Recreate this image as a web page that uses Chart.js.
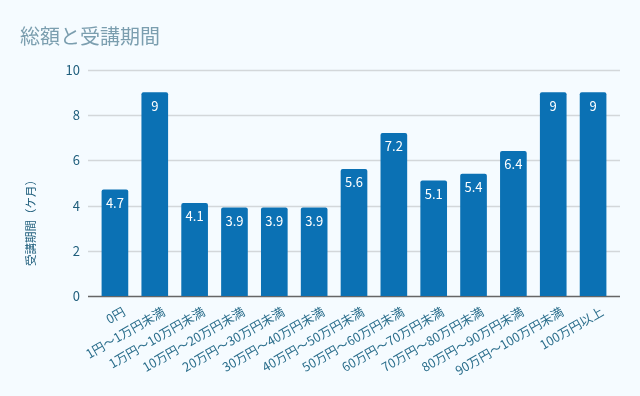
<!DOCTYPE html>
<html>
<head>
<meta charset="utf-8">
<script src="https://cdn.jsdelivr.net/npm/chart.js@4"></script>
<style>
    html, body { margin: 0; padding: 0; background: #f5fbff; }
    #wrap { width: 640px; height: 396px; }
</style>
</head>
<body>
<div id="wrap"><canvas id="chart" width="640" height="396"></canvas></div>
<script>
const FONT = "'Noto Sans CJK JP', 'Noto Sans', sans-serif";

// data
const categories = [
    "0円", "1円～1万円未満", "1万円～10万円未満", "10万円～20万円未満",
    "20万円～30万円未満", "30万円～40万円未満", "40万円～50万円未満",
    "50万円～60万円未満", "60万円～70万円未満", "70万円～80万円未満",
    "80万円～90万円未満", "90万円～100万円未満", "100万円以上"
];
const months = [4.7, 9, 4.1, 3.9, 3.9, 3.9, 5.6, 7.2, 5.1, 5.4, 6.4, 9, 9];
const yTicks = [0, 2, 4, 6, 8, 10];
const yTitle = "受講期間（ケ月）";

// grid lines that run a little past the plot on both sides
const gridPlugin = {
    id: "gridPlugin",
    beforeDatasetsDraw(chart) {
        const { ctx, chartArea, scales } = chart;
        ctx.save();
        scales.y.ticks.forEach(t => {
            const y = Math.round(scales.y.getPixelForValue(t.value)) + 0.5;
            ctx.beginPath();
            ctx.lineWidth = 1.5;
            ctx.strokeStyle = t.value === 0 ? "#666666" : "#d3d7da";
            ctx.moveTo(chartArea.left - 7, y);
            ctx.lineTo(chartArea.right + 7, y);
            ctx.stroke();
        });
        ctx.restore();
    }
};

// value labels inside the top of each bar, plus the y axis title
const valueLabels = {
    id: "valueLabels",
    afterDatasetsDraw(chart) {
        const { ctx } = chart;
        const meta = chart.getDatasetMeta(0);
        ctx.save();
        ctx.fillStyle = "#ffffff";
        ctx.font = "13px " + FONT;
        ctx.textAlign = "center";
        ctx.textBaseline = "middle";
        meta.data.forEach((bar, i) => {
            ctx.fillText(String(months[i]), bar.x, bar.y + 13);
        });
        ctx.restore();

        ctx.save();
        ctx.translate(31, 220);
        ctx.rotate(-Math.PI / 2);
        ctx.fillStyle = "#1f5e7c";
        ctx.font = "11.5px " + FONT;
        ctx.textAlign = "center";
        ctx.textBaseline = "middle";
        ctx.fillText(yTitle, 0, 0);
        ctx.restore();
    }
};

const ctx = document.getElementById("chart").getContext("2d");
new Chart(ctx, {
    type: "bar",
    data: {
        labels: categories,
        datasets: [{
            data: months,
            backgroundColor: "#0b71b4",
            borderRadius: 2,
            borderSkipped: "bottom",
            barThickness: 26
        }]
    },
    options: {
        responsive: false,
        animation: false,
        layout: { padding: { left: 20, right: 27, top: 24, bottom: 10 } },
        plugins: {
            legend: { display: false },
            tooltip: { enabled: false },
            title: {
                display: true,
                text: "総額と受講期間",
                align: "start",
                color: "#7b9eaf",
                font: { family: FONT, size: 20, weight: "normal" },
                padding: { top: 0, bottom: 22 }
            }
        },
        scales: {
            x: {
                grid: { display: false },
                border: { display: false },
                ticks: {
                    color: "#2b6e8c",
                    font: { family: FONT, size: 12.5 },
                    minRotation: 30,
                    maxRotation: 30,
                    autoSkip: false,
                    labelOffset: 9,
                    padding: 0
                },
                afterFit(scale) { scale.height = 90; }
            },
            y: {
                min: 0,
                max: 10,
                afterBuildTicks(scale) { scale.ticks = yTicks.map(v => ({ value: v })); },
                grid: { display: false },
                border: { display: false },
                ticks: {
                    color: "#1f5e7c",
                    font: { family: FONT, size: 13 },
                    padding: 7
                },
                afterFit(scale) { scale.width = 75; }
            }
        }
    },
    plugins: [gridPlugin, valueLabels]
});
</script>
</body>
</html>
